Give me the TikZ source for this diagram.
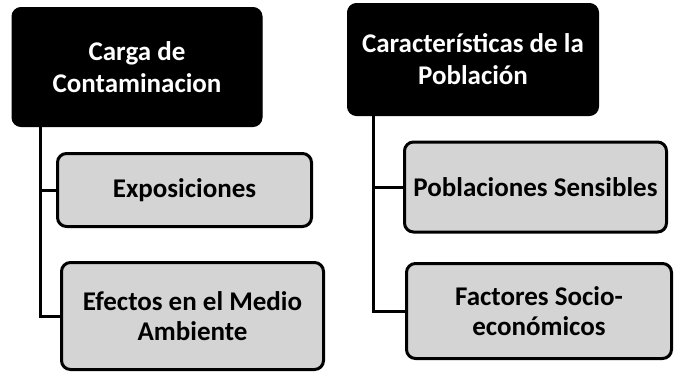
\documentclass[tikz,border=0pt]{standalone}
\usepackage{fontspec}
\setmainfont{Carlito}
\definecolor{boxgrey}{RGB}{212,212,212}
\begin{document}
\begin{tikzpicture}[x=1pt,y=-1pt,
  topbox/.style={draw=black, fill=black, text=white, rounded corners=9pt, line width=1pt,
    font=\fontsize{27}{32}\selectfont\bfseries, align=center, inner sep=0pt},
  subbox/.style={draw=black, fill=boxgrey, text=black, rounded corners=9pt, line width=3pt,
    font=\fontsize{27}{30.5}\selectfont\bfseries, align=center, inner sep=0pt},
  conn/.style={draw=black, line width=3pt}]
\fill[white] (0,0) rectangle (674,375);
\node[topbox, minimum width=250pt, minimum height=119pt] (b1) at (137,67) {Carga de\\Contaminacion};
\node[topbox, minimum width=251pt, minimum height=112pt] (b2) at (473,59.5) {Características de la\\Población};
\node[subbox, minimum width=254pt, minimum height=73pt] (expo) at (184.5,190) {Exposiciones};
\node[subbox, minimum width=262pt, minimum height=107pt] (efe) at (192.5,316) {Efectos en el Medio\\Ambiente};
\node[subbox, minimum width=262pt, minimum height=90pt] (pob) at (535.5,187) {Poblaciones Sensibles};
\node[subbox, minimum width=265pt, minimum height=95pt] (fac) at (539,311) {Factores Socio-\\económicos};
\draw[conn] ([xshift=29pt]b1.south west) |- (expo.west);
\draw[conn] ([xshift=29pt]b1.south west) |- (efe.west);
\draw[conn] ([xshift=26pt]b2.south west) |- (pob.west);
\draw[conn] ([xshift=26pt]b2.south west) |- (fac.west);
\end{tikzpicture}
\end{document}
